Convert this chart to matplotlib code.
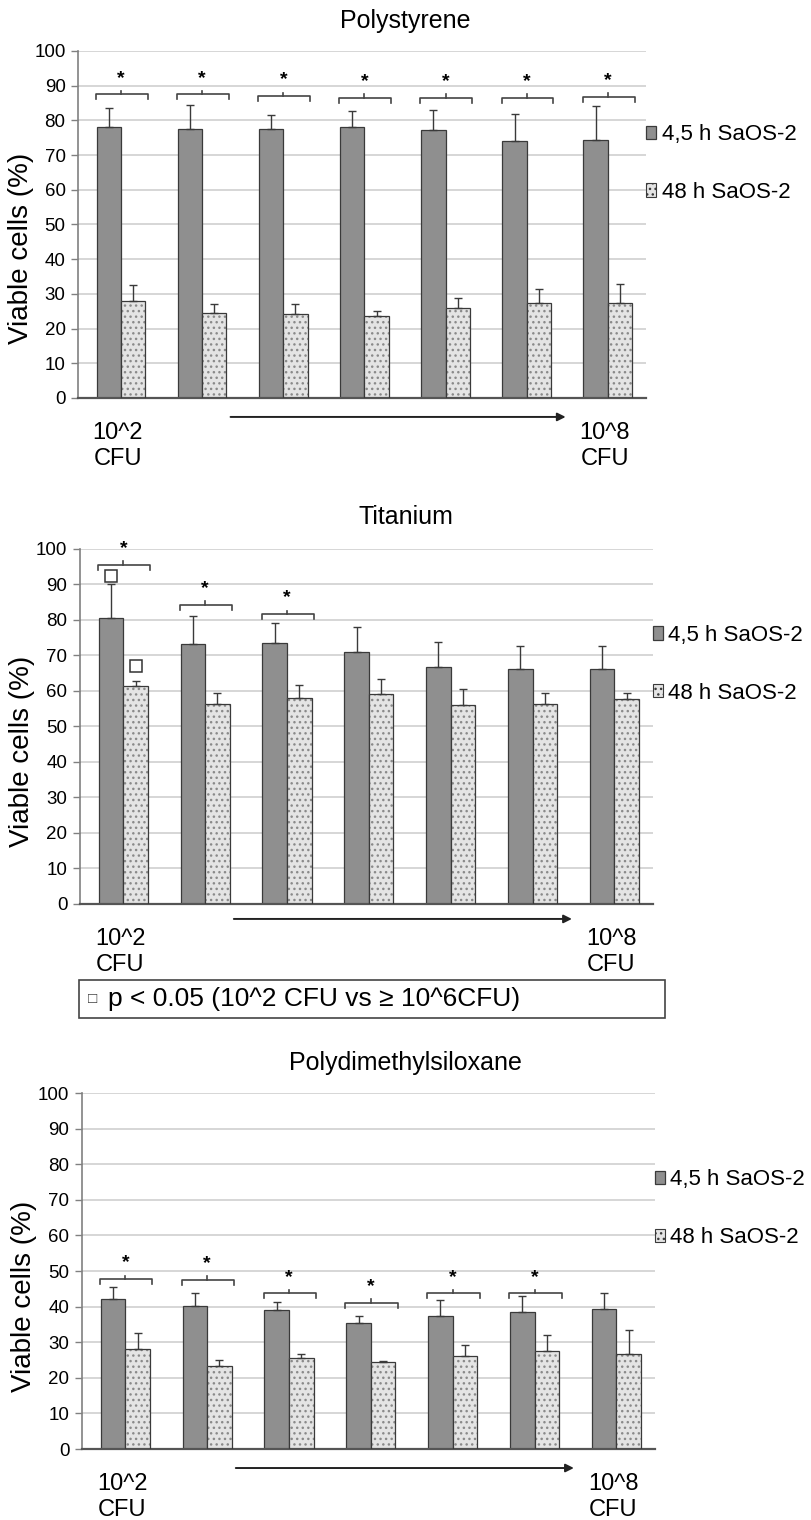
import numpy as np
import matplotlib
matplotlib.use('Agg')
import matplotlib.pyplot as plt
from matplotlib.patches import Rectangle
from matplotlib.transforms import ScaledTranslation

plt.rcParams['font.family'] = ['Liberation Sans', 'DejaVu Sans']
plt.rcParams['hatch.linewidth'] = 1.0

# --- data (viable cells, %) ---
groups = np.arange(7)
series_labels = ['4,5 h SaOS-2', '48 h SaOS-2']

ps_early = [78.0, 77.6, 77.6, 78.0, 77.3, 73.9, 74.4]
ps_early_sd = [5.5, 6.9, 4.0, 4.7, 5.8, 7.8, 9.8]
ps_late = [27.9, 24.4, 24.1, 23.6, 26.0, 27.5, 27.3]
ps_late_sd = [4.6, 2.8, 3.1, 1.4, 2.8, 4.0, 5.6]
ps_sig = [87.5, 87.5, 87.0, 86.5, 86.5, 86.5, 86.8]

ti_early = [80.4, 73.2, 73.5, 70.9, 66.8, 66.1, 66.3]
ti_early_sd = [9.6, 7.9, 5.5, 7.2, 7.0, 6.5, 6.3]
ti_late = [61.5, 56.4, 58.1, 59.0, 55.9, 56.4, 57.6]
ti_late_sd = [1.3, 2.9, 3.6, 4.3, 4.7, 2.9, 1.7]
ti_sig = [95.5, 84.3, 81.6]
ti_square_early = 92.4   # marker above 10^2 CFU, 4,5 h
ti_square_late = 67.0    # marker above 10^2 CFU, 48 h

pdms_early = [42.1, 40.3, 39.0, 35.3, 37.3, 38.6, 39.2]
pdms_early_sd = [3.3, 3.4, 2.3, 2.2, 4.6, 4.4, 4.7]
pdms_late = [28.1, 23.2, 25.6, 24.4, 26.1, 27.5, 26.8]
pdms_late_sd = [4.4, 1.7, 1.0, 0.4, 3.1, 4.5, 6.6]
pdms_sig = [47.7, 47.5, 43.7, 41.1, 43.7, 43.7]

titles = ['Polystyrene', 'Titanium', 'Polydimethylsiloxane']
yticks = np.arange(0, 101, 10)

DARK = '#8f8f8f'
LIGHT = '#e4e4e4'
EDGE = '#3a3a3a'
W = 0.3

fig = plt.figure(figsize=(8.11, 15.2), dpi=100)

# axes rectangles (figure fractions)
rects = [
    [0.0962, 0.7382, 0.7003, 0.2283],
    [0.0986, 0.4053, 0.7065, 0.2336],
    [0.1010, 0.0467, 0.7065, 0.2342],
]
title_y = [0.9862, 0.6599, 0.3007]
arrow_off = [19, 15, 19]

panels = [
    (ps_early, ps_early_sd, ps_late, ps_late_sd, ps_sig),
    (ti_early, ti_early_sd, ti_late, ti_late_sd, ti_sig),
    (pdms_early, pdms_early_sd, pdms_late, pdms_late_sd, pdms_sig),
]

for i, (early, early_sd, late, late_sd, sig) in enumerate(panels):
    ax = fig.add_axes(rects[i])
    ax.set_xlim(-0.53, 6.47)
    ax.set_ylim(0, 100)
    ax.set_yticks(yticks)
    ax.yaxis.grid(True, color='#d6d6d6', linewidth=1.4)
    ax.set_axisbelow(True)
    for s in ['top', 'right']:
        ax.spines[s].set_visible(False)
    ax.spines['left'].set_color('#808080')
    ax.spines['left'].set_linewidth(1.2)
    ax.spines['bottom'].set_color('#555555')
    ax.spines['bottom'].set_linewidth(1.6)
    ax.set_xticks([])
    ax.tick_params(axis='y', labelsize=13.5, length=5, width=1, color='#808080', pad=4)

    b1 = ax.bar(groups - W / 2, early, W, color=DARK, edgecolor=EDGE, linewidth=0.9,
                label=series_labels[0], zorder=2)
    # dotted light bars: hatch layer then outline
    ax.bar(groups + W / 2, late, W, color=LIGHT, edgecolor='#8a8a8a', hatch='...',
           linewidth=0, zorder=2)
    ax.bar(groups + W / 2, late, W, color='none', edgecolor=EDGE, linewidth=0.9, zorder=3)
    b2 = Rectangle((0, 0), 1, 1, facecolor=LIGHT, edgecolor=EDGE, hatch='...', linewidth=0.8)

    ax.errorbar(groups - W / 2, early, yerr=[np.zeros(7), early_sd], fmt='none',
                ecolor=EDGE, elinewidth=1, capsize=3, capthick=1, zorder=4)
    ax.errorbar(groups + W / 2, late, yerr=[np.zeros(7), late_sd], fmt='none',
                ecolor=EDGE, elinewidth=1, capsize=3, capthick=1, zorder=4)

    # significance brackets
    for g, yb in enumerate(sig):
        x0, x1 = g - W - 0.01, g + W + 0.03
        ax.plot([x0, x0, x1, x1], [yb - 1.4, yb, yb, yb - 1.4], color='#444444', lw=1.2,
                clip_on=False, zorder=5)
        ax.plot([g, g], [yb, yb + 1.0], color='#444444', lw=1.2, clip_on=False, zorder=5)
        ax.text(g, yb + 2.2, '*', ha='center', va='bottom', fontsize=14, fontweight='bold',
                color='black', zorder=5)

    if i == 1:
        ax.plot([0 - W / 2, 0 + W / 2], [ti_square_early, ti_square_late], 's', ms=8,
                mfc='white', mec='#333333', mew=1.1, ls='none', zorder=5, clip_on=False)

    ax.set_ylabel('Viable cells (%)', fontsize=20)
    ax.yaxis.set_label_coords(-0.078, 0.43)

    ax.legend([b1, b2], series_labels, loc='center left', bbox_to_anchor=(1.0, 0.675),
              frameon=False, fontsize=16, handlelength=0.45, handleheight=0.55,
              handletextpad=0.25, labelspacing=1.65, borderpad=0, borderaxespad=0)

    # x-axis end labels
    for gx, txt in [(0, '10^2'), (6, '10^8')]:
        ax.annotate(txt, xy=(gx - 0.04, 0), xycoords=('data', 'axes fraction'),
                    xytext=(0, -35), textcoords='offset pixels', ha='center', va='center',
                    fontsize=17)
        ax.annotate('CFU', xy=(gx - 0.04, 0), xycoords=('data', 'axes fraction'),
                    xytext=(0, -61), textcoords='offset pixels', ha='center', va='center',
                    fontsize=17)

    # arrow showing increasing inoculum
    trans = ax.get_xaxis_transform() + ScaledTranslation(0, -arrow_off[i] / 100, fig.dpi_scale_trans)
    ax.annotate('', xy=(5.48, 0), xytext=(1.35, 0), xycoords=trans, textcoords=trans,
                arrowprops=dict(arrowstyle='-|>', color='#222222', lw=1.4,
                                mutation_scale=12, shrinkA=0, shrinkB=0))

    fig.text(0.5, title_y[i], titles[i], ha='center', va='center', fontsize=18)

# p-value note box under the Titanium panel
fig.add_artist(Rectangle((0.0974, 0.3303), 0.7226, 0.0250, transform=fig.transFigure,
                         facecolor='white', edgecolor='#444444', linewidth=1.2))
fig.text(0.1085, 0.3428, '\u25a1', ha='left', va='center', fontsize=11, color='#333333')
fig.text(0.1330, 0.3428, 'p < 0.05 (10^2 CFU vs \u2265 10^6CFU)', ha='left', va='center',
         fontsize=19)

fig.savefig('out.png', dpi=100)
